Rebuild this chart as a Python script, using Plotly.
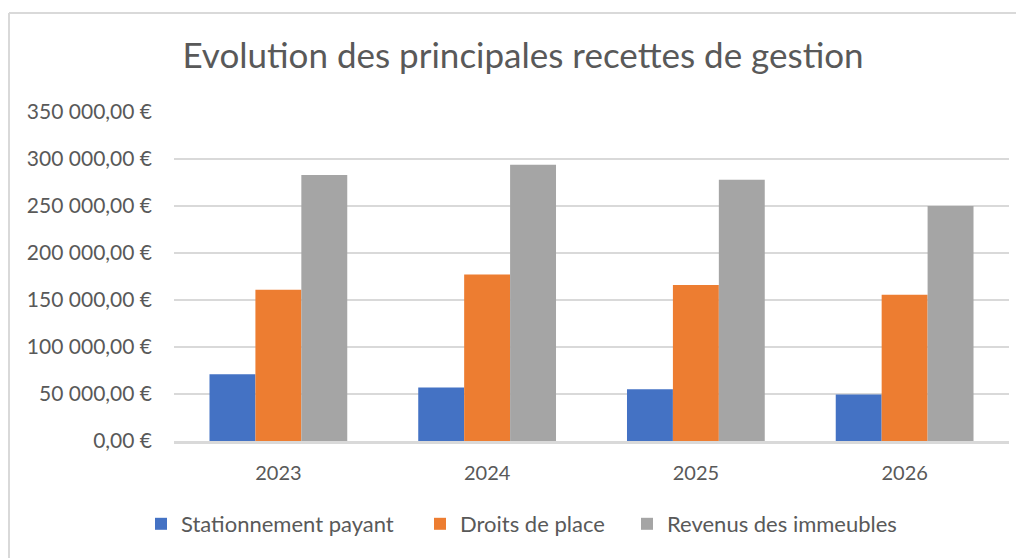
import plotly.graph_objects as go

years = ["2023", "2024", "2025", "2026"]
stationnement = [71000, 57000, 55000, 49500]
droits_place = [161000, 177000, 166000, 155500]
revenus_immeubles = [283000, 294000, 278000, 250000]

tick_vals = [0, 50000, 100000, 150000, 200000, 250000, 300000, 350000]
tick_text = ["0,00 €", "50 000,00 €", "100 000,00 €", "150 000,00 €",
             "200 000,00 €", "250 000,00 €", "300 000,00 €", "350 000,00 €"]

FONT = "Lato"
TXT = "#595959"
W, H = 1016, 550

series = [("Stationnement payant", stationnement, "#4472C4", "legend", 147),
          ("Droits de place", droits_place, "#ED7D31", "legend2", 426),
          ("Revenus des immeubles", revenus_immeubles, "#A5A5A5", "legend3", 633)]

fig = go.Figure()
for name, vals, col, lg, _ in series:
    fig.add_trace(go.Bar(x=years, y=vals, name=name, marker_color=col,
                         marker_line_width=0, legend=lg))

L, R, T, B = 166, W - 1001, 104, H - 433
pw = W - L - R
ph = H - T - B
bx = (1 - L) / pw
by = 1 + (T - 5) / ph

legend_common = dict(orientation="h", xref="container", yref="container",
                     y=1 - 516 / H, yanchor="middle", xanchor="left",
                     font=dict(family=FONT, size=22, color=TXT),
                     bgcolor="rgba(0,0,0,0)", itemwidth=30)
legends = {}
for name, vals, col, lg, px in series:
    legends[lg] = dict(legend_common, x=(px - 14) / W)

fig.update_layout(
    width=W, height=H,
    margin=dict(l=L, r=R, t=T, b=B),
    paper_bgcolor="white", plot_bgcolor="white",
    barmode="group", bargap=0.34, bargroupgap=0,
    title=dict(text="Evolution des principales recettes de gestion",
               font=dict(family=FONT, size=35, color=TXT),
               x=515 / W, xanchor="center", xref="container",
               y=1 - 48 / H, yanchor="middle"),
    font=dict(family=FONT, size=20, color=TXT),
    showlegend=True,
    shapes=[
        dict(type="line", xref="paper", yref="paper", x0=bx, x1=bx, y0=-1, y1=by,
             line=dict(color="#D9D9D9", width=2)),
        dict(type="line", xref="paper", yref="paper", x0=bx, x1=1.5, y0=by, y1=by,
             line=dict(color="#D9D9D9", width=2)),
    ],
    **legends,
)
fig.update_xaxes(showgrid=False, showline=True, linecolor="#D9D9D9", linewidth=2.5,
                 ticks="", tickfont=dict(family=FONT, size=20, color=TXT),
                 ticklabelstandoff=12)
fig.update_yaxes(range=[0, 350000], tickvals=tick_vals, ticktext=tick_text,
                 showgrid=True, gridcolor="#D9D9D9", gridwidth=1.5,
                 zeroline=False, showline=False, ticks="",
                 tickfont=dict(family=FONT, size=21, color=TXT),
                 ticklabelstandoff=21)

fig.write_html("out.html")
